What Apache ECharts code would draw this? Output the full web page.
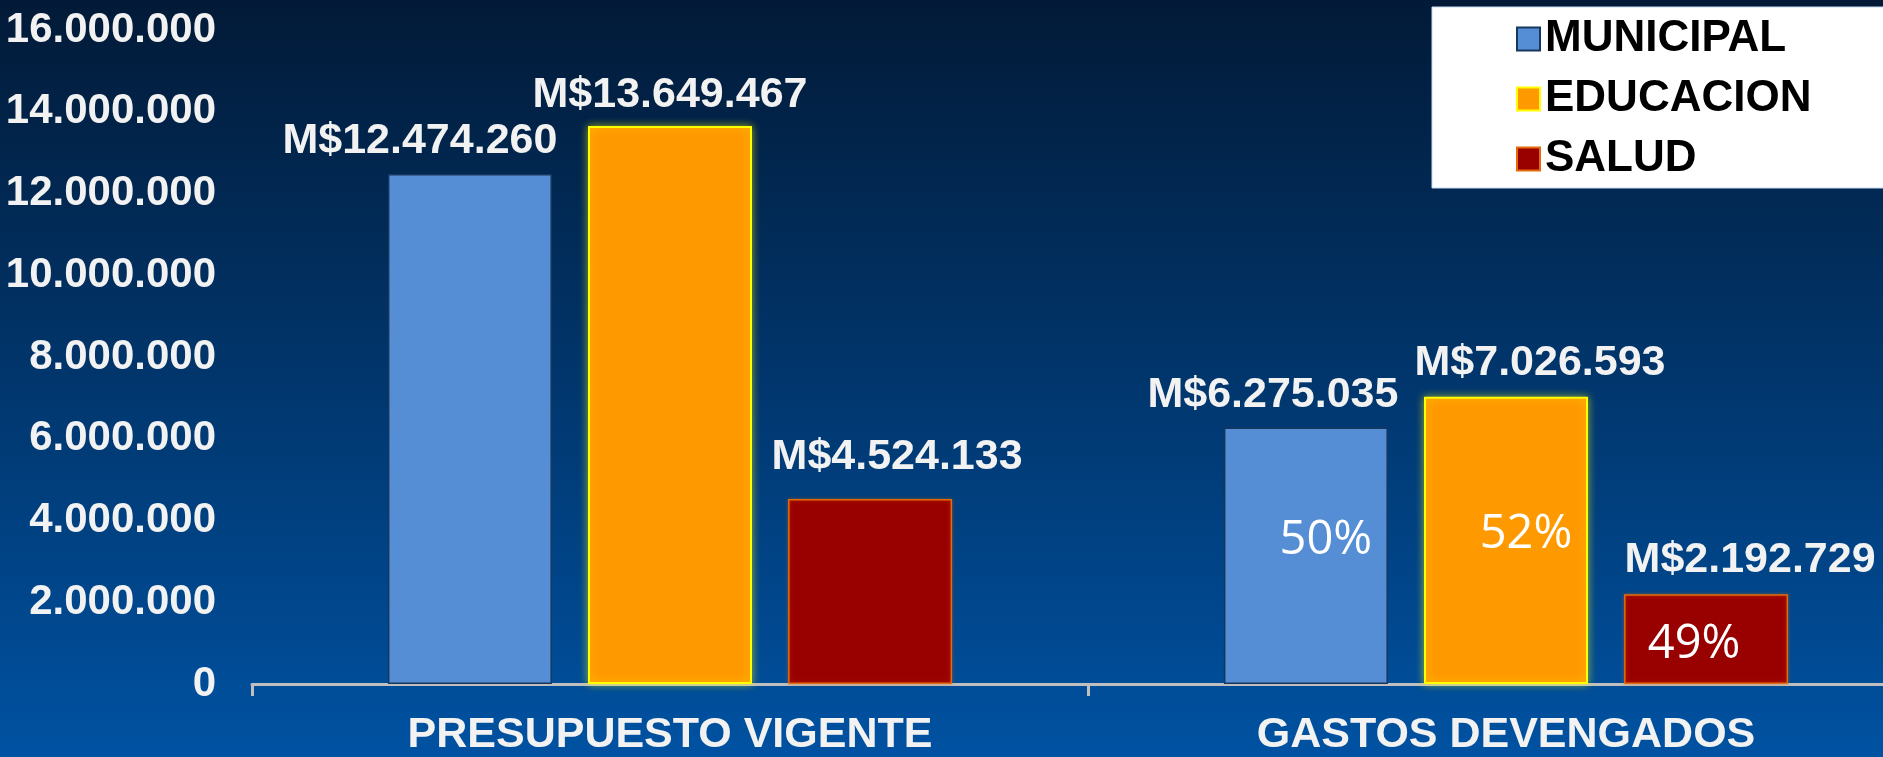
<!DOCTYPE html>
<html>
<head>
<meta charset="utf-8">
<script src="https://cdn.jsdelivr.net/npm/echarts@6/dist/echarts.min.js"></script>
<style>
html,body{margin:0;padding:0;width:1883px;height:757px;overflow:hidden;}
#chart{width:1924px;height:757px;}
</style>
</head>
<body>
<div id="chart"></div>
<script>
// ---- data ----
const categories = ['PRESUPUESTO VIGENTE', 'GASTOS DEVENGADOS'];
const seriesNames = ['MUNICIPAL', 'EDUCACION', 'SALUD'];
const municipal = [12474260, 6275035];
const educacion = [13649467, 7026593];
const salud = [4524133, 2192729];
const pctMunicipal = [null, '50%'];
const pctEducacion = [null, '52%'];
const pctSalud = [null, '49%'];
const yMin = 0, yMax = 16000000, yInterval = 2000000;

// ---- helpers ----
const fmt = v => String(Math.round(v)).replace(/\B(?=(\d{3})+(?!\d))/g, '.');
const ARIAL = "'Liberation Sans', Arial, sans-serif";
const TXT = '#f2f2f2';

const styles = [
  {color: '#558ed5', borderColor: '#17375e', borderWidth: 1.5},
  {color: '#ff9900', borderColor: '#ffff00', borderWidth: 2, shadowBlur: 8, shadowColor: 'rgba(255,255,0,0.55)'},
  {color: '#990000', borderColor: '#e46c0a', borderWidth: 1.5, shadowBlur: 4, shadowColor: 'rgba(228,108,10,0.4)'}
];
// per-bar label nudges (value labels)
const valueLabelOffsets = [
  [[-50, 0], [-33, 0]],
  [[0, 2], [34, -1]],
  [[27, -9], [44, -2]]
];
// per-bar nudges for percent labels
const pctLabelOffsets = [
  [[0, 0], [20, -15]],
  [[0, 0], [20, -6]],
  [[-3, 0], [-12, 5]]
];
const values = [municipal, educacion, salud];
const pcts = [pctMunicipal, pctEducacion, pctSalud];

const series = [];
values.forEach((arr, s) => {
  series.push({
    name: seriesNames[s],
    type: 'bar',
    xAxisIndex: 0, yAxisIndex: 0,
    barWidth: 164,
    barGap: '22%',
    itemStyle: styles[s],
    label: {
      show: true, position: 'top', distance: 11,
      color: TXT, fontFamily: ARIAL, fontWeight: 'bold', fontSize: 43,
      formatter: p => 'M$' + fmt(p.value)
    },
    data: arr.map((v, i) => ({value: v, label: {offset: valueLabelOffsets[s][i]}}))
  });
});
values.forEach((arr, s) => {
  series.push({
    type: 'bar',
    xAxisIndex: 1, yAxisIndex: 1,
    barWidth: 164,
    barGap: '22%',
    silent: true,
    itemStyle: {color: 'rgba(0,0,0,0)'},
    label: {
      show: true, position: 'inside',
      color: '#ffffff', fontFamily: "'Open Sans', 'Noto Sans', sans-serif", fontWeight: 'normal', fontSize: 47,
      formatter: p => pcts[s][p.dataIndex] || ''
    },
    data: arr.map((v, i) => ({value: v, label: {offset: pctLabelOffsets[s][i]}}))
  });
});

const chart = echarts.init(document.getElementById('chart'), null, {renderer: 'canvas'});
chart.setOption({
  animation: false,
  backgroundColor: {
    type: 'linear', x: 0, y: 0, x2: 0, y2: 1,
    colorStops: [{offset: 0, color: '#021a37'}, {offset: 1, color: '#0052a2'}]
  },
  grid: {left: 252, right: 0, top: 30, bottom: 73, containLabel: false},
  legend: {
    data: seriesNames,
    orient: 'vertical',
    left: 1432, top: 7,
    padding: [10, 110, 7, 84],
    backgroundColor: '#ffffff',
    borderColor: '#c6d9f1', borderWidth: 1,
    itemWidth: 23, itemHeight: 23, itemGap: 16,
    icon: 'rect',
    textStyle: {color: '#000000', fontFamily: ARIAL, fontWeight: 'bold', fontSize: 44, lineHeight: 42}
  },
  xAxis: [{
    type: 'category', data: categories,
    axisLine: {show: true, lineStyle: {color: '#bfbfbf', width: 3}},
    axisTick: {show: true, length: 12, lineStyle: {color: '#bfbfbf', width: 3}},
    axisLabel: {color: TXT, fontFamily: ARIAL, fontWeight: 'bold', fontSize: 43, margin: 30}
  }, {
    type: 'category', data: categories, show: false
  }],
  yAxis: [{
    type: 'value', min: yMin, max: yMax, interval: yInterval,
    axisLine: {show: false}, axisTick: {show: false}, splitLine: {show: false},
    axisLabel: {color: TXT, fontFamily: ARIAL, fontWeight: 'bold', fontSize: 42, margin: 36, formatter: v => fmt(v)}
  }, {
    type: 'value', min: yMin, max: yMax, interval: yInterval, show: false
  }],
  series: series
});
</script>
</body>
</html>
